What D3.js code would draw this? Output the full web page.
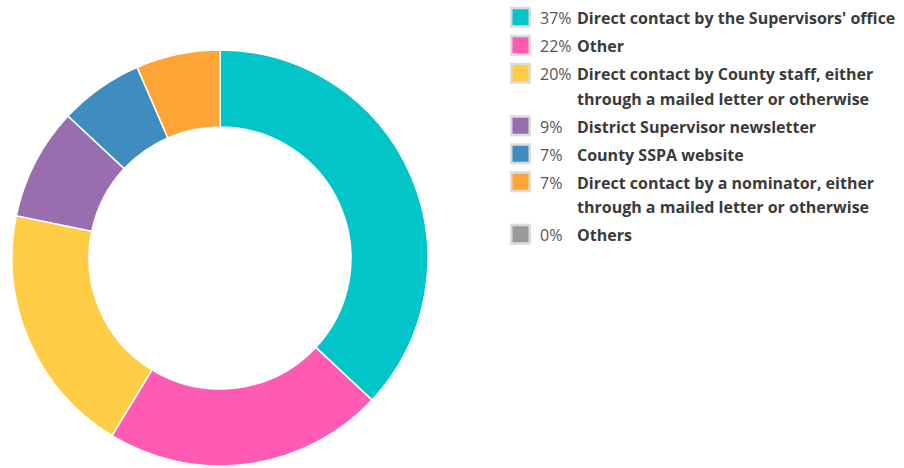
<!DOCTYPE html>
<html>
<head>
<meta charset="utf-8">
<script src="https://cdn.jsdelivr.net/npm/d3@7"></script>
<style>
  body { margin: 0; background: #fff; }
  svg { display: block; font-family: "Open Sans", sans-serif; }
  .pct { font-size: 16px; fill: #555; }
  .lbl { font-size: 16px; font-weight: bold; fill: #3a3a3a; }
</style>
</head>
<body>
<div id="chart"></div>
<script>
// responses (counts) per source
var categories = [
  "Direct contact by the Supervisors' office",
  "Other",
  "Direct contact by County staff, either through a mailed letter or otherwise",
  "District Supervisor newsletter",
  "County SSPA website",
  "Direct contact by a nominator, either through a mailed letter or otherwise",
  "Others"
];
var counts = [17, 10, 9, 4, 3, 3, 0];
var colors = ["#02c5c9", "#ff5bb5", "#ffcd45", "#9a6daf", "#3f8cc0", "#ffa437", "#9a9a9a"];

var W = 904, H = 468;
var total = d3.sum(counts);
var data = categories.map(function(c, i) { return { name: c, value: counts[i], color: colors[i] }; });

var svg = d3.select('#chart')
  .append('svg')
  .attr('width', W)
  .attr('height', H);

// donut
var pie = d3.pie().sort(null).value(function(d) { return d.value; });
var arc = d3.arc().innerRadius(131).outerRadius(208);

var g = svg.append('g')
  .attr('transform', 'translate(220,258)');
g.selectAll('path')
  .data(pie(data.filter(function(d) { return d.value > 0; })))
  .enter().append('path')
  .attr('d', arc)
  .attr('fill', function(d) { return d.data.color; })
  .attr('stroke', '#fff')
  .attr('stroke-width', 1.5);

// legend
var fmt = function(v) { return Math.round(v / total * 100) + '%'; };
var legend = svg.append('g');
var lineH = 24.5, rowGap = 28, maxW = 324;
var y = 18.5;

data.forEach(function(d) {
  var row = legend.append('g');
  row.append('rect')
    .attr('x', 511.25)
    .attr('y', y - 10.5)
    .attr('width', 18.5)
    .attr('height', 18.5)
    .attr('fill', d.color)
    .attr('stroke', '#dcdcdc')
    .attr('stroke-width', 2.5);
  row.append('text')
    .attr('class', 'pct')
    .attr('x', 540)
    .attr('y', y)
    .attr('dy', '0.35em')
    .text(fmt(d.value));

  // wrap the label to the legend width
  var words = d.name.split(' ');
  var t = row.append('text').attr('class', 'lbl');
  var line = [];
  var lines = 0;
  var tspan = t.append('tspan').attr('x', 577).attr('y', y).attr('dy', '0.35em');
  words.forEach(function(w) {
    line.push(w);
    tspan.text(line.join(' '));
    if (tspan.node().getComputedTextLength() > maxW && line.length > 1) {
      line.pop();
      tspan.text(line.join(' '));
      line = [w];
      lines++;
      tspan = t.append('tspan')
        .attr('x', 577)
        .attr('y', y + lines * lineH)
        .attr('dy', '0.35em')
        .text(w);
    }
  });
  y += lines * lineH + rowGap;
});
</script>
</body>
</html>
